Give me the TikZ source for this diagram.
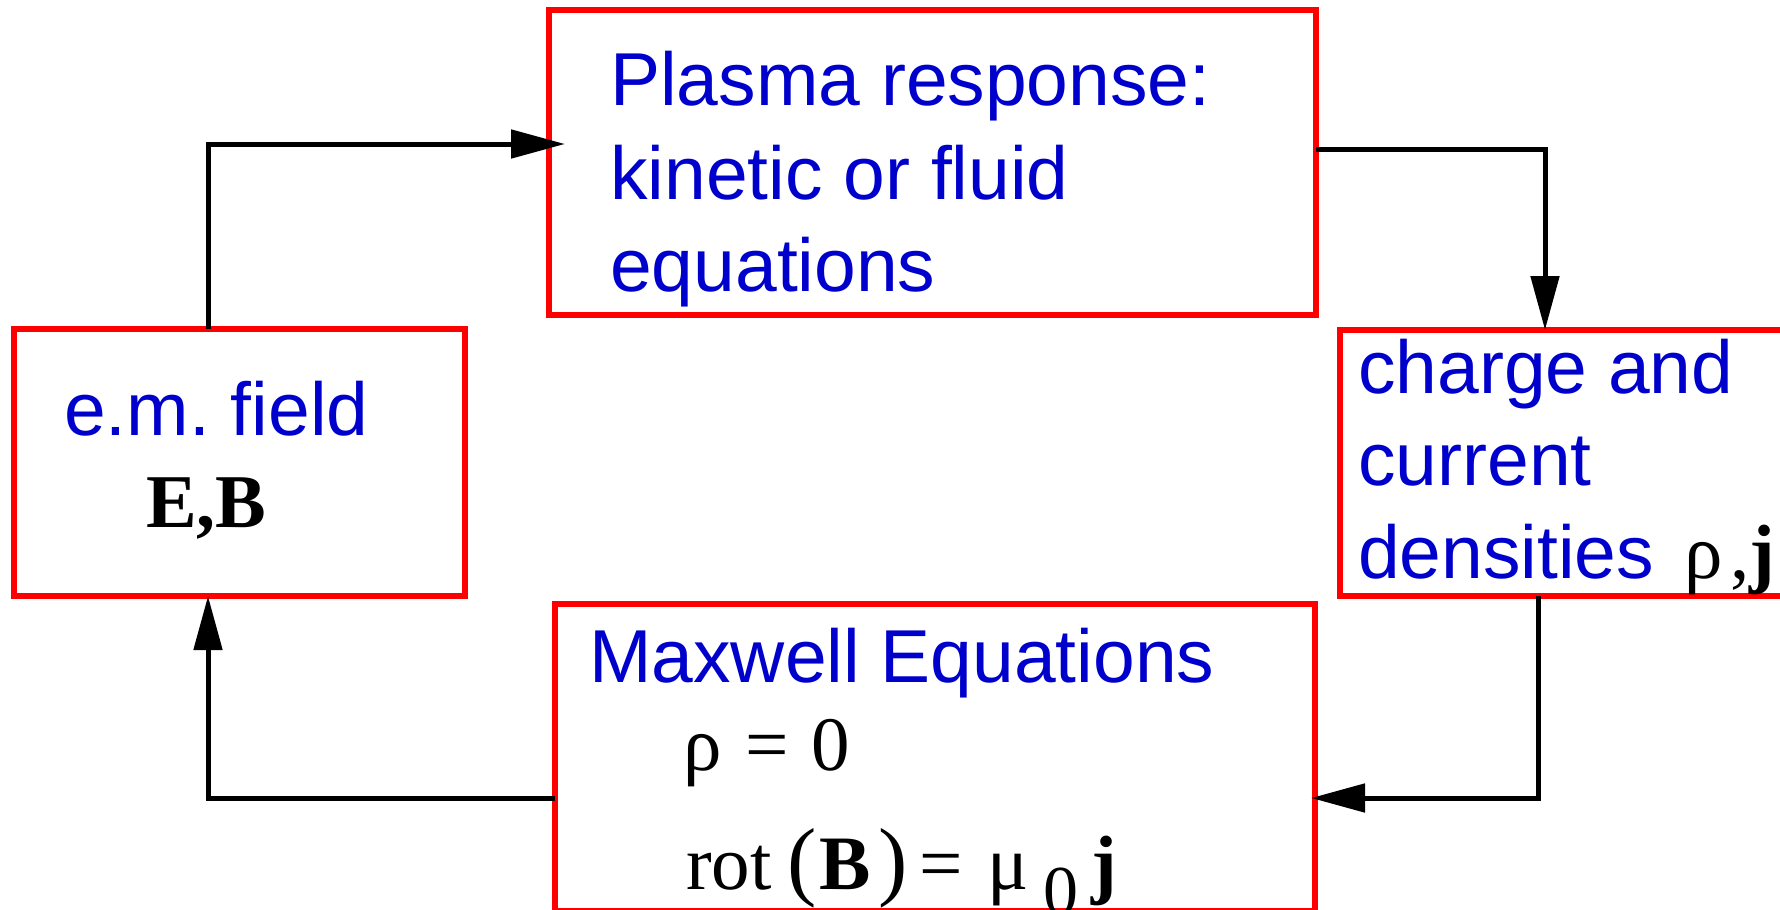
\documentclass[tikz,border=0pt]{standalone}
\usepackage{fontspec}
\setmainfont{Liberation Sans}
\newfontfamily\seriffont{Liberation Serif}
\usetikzlibrary{arrows.meta}
\definecolor{txtblue}{RGB}{0,0,204}
\definecolor{boxred}{RGB}{255,0,0}
\begin{document}
\begin{tikzpicture}[x=1pt,y=-1pt,
  box/.style={draw=boxred, line width=6pt, inner sep=0pt, outer sep=0pt},
  conn/.style={draw=black, line width=5pt, -{Triangle[length=54pt,width=28pt]}},
  txt/.style={inner sep=0pt, anchor=base west, text=txtblue, font=\fontsize{75}{89}\selectfont\frenchspacing},
  mth/.style={inner sep=0pt, anchor=base west, text=black, font=\seriffont\fontsize{77}{90}\selectfont}]
\useasboundingbox (0,0) rectangle (1780,910);
\clip (0,0) rectangle (1780,910);
% boxes
\node[box, minimum width=767pt, minimum height=305pt] (plasma) at (932.5,162.5) {};
\node[box, minimum width=451pt, minimum height=267pt] (em) at (239.5,462.5) {};
\node[box, minimum width=500pt, minimum height=266pt] (charge) at (1590,463) {};
\node[box, minimum width=760pt, minimum height=307pt] (maxwell) at (935,757.5) {};
% texts
\node[txt] (p1) at (610,105) {Plasma response:};
\node[txt] (p2) at (610,199) {kinetic or fluid};
\node[txt] (p3) at (610,291) {equations};
\node[txt] (e1) at (64,435) {e.m. field};
\node[mth, font=\seriffont\bfseries\fontsize{76}{90}\selectfont] (e2) at (146,527) {E,B};
\node[txt] (c1) at (1358,393) {charge and};
\node[txt] (c2) at (1358,485) {current};
\node[txt] (c3) at (1358,578) {densities\hspace{30pt}{\color{black}\seriffont\fontsize{77}{90}\selectfont ρ\hspace{8pt},\textbf{j}}};
\node[txt] (m1) at (589,682) {Maxwell Equations};
\node[mth] (m2) at (683,770) {ρ\hspace{24pt}=\hspace{22.5pt}0};
\node[mth] (m3) at (686,889) {rot\hspace{16pt}{\fontsize{88}{90}\selectfont(}\hspace{2pt}\textbf{B}\hspace{8pt}{\fontsize{88}{90}\selectfont)}\hspace{12pt}=\hspace{24pt}μ\hspace{15pt}\raisebox{-25pt}{\fontsize{70}{70}\selectfont 0}\hspace{13pt}\textbf{j}};
% connectors
\draw[conn] ([xshift=194pt]em.north west) |- ([xshift=16pt,yshift=-134pt]plasma.north west);
\draw[conn] ([yshift=-139pt]plasma.north east) -| ([xshift=205pt]charge.north west);
\draw[conn] ([xshift=198pt]charge.south west) |- ([xshift=-4pt,yshift=-194pt]maxwell.north east);
\draw[conn] ([yshift=-194pt]maxwell.north west) -| ([xshift=194pt]em.south west);
\end{tikzpicture}
\end{document}
